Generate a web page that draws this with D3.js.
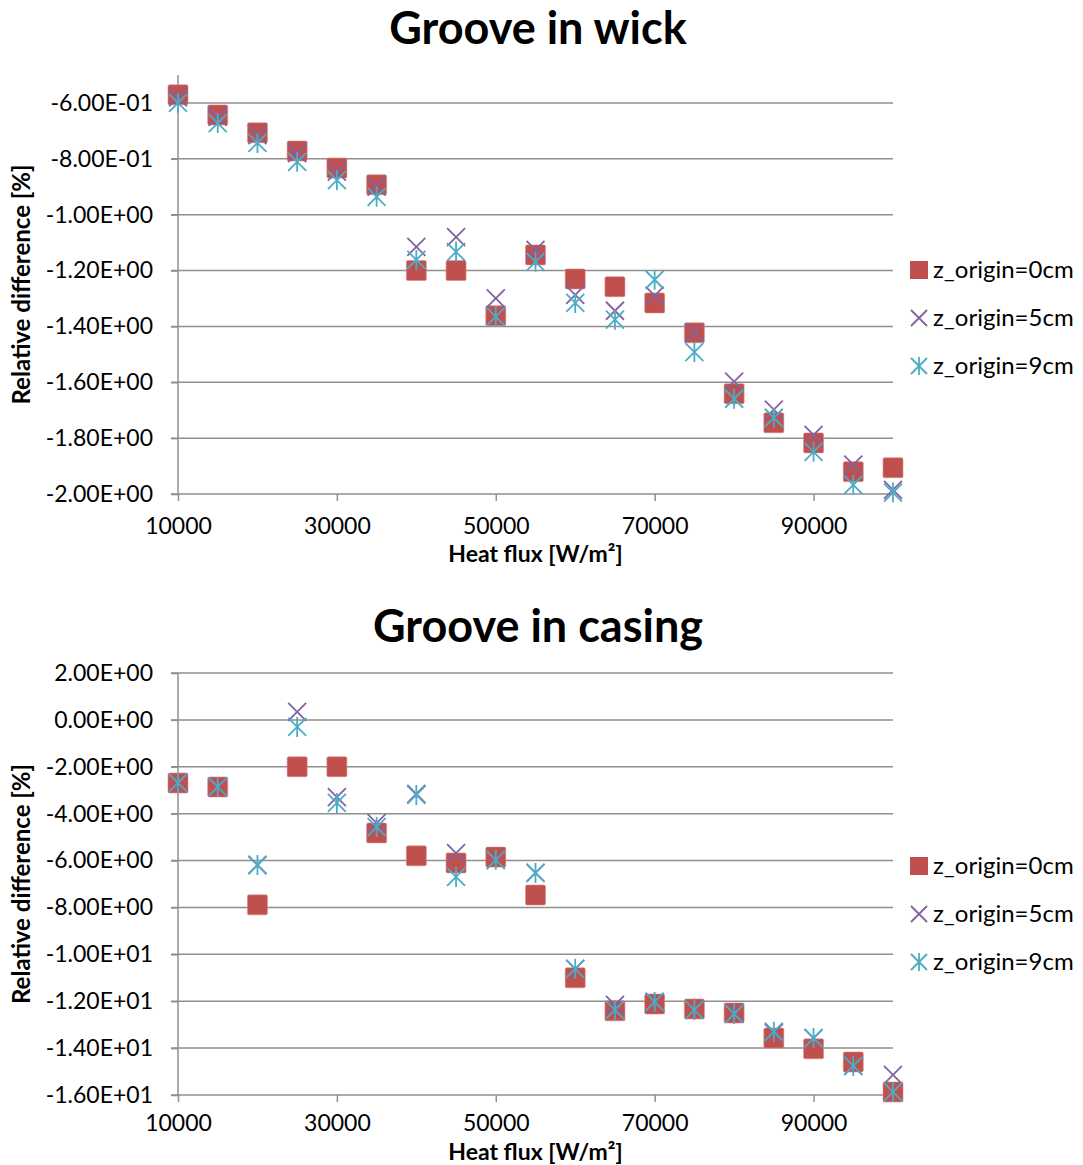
<!DOCTYPE html>
<html>
<head>
<meta charset="utf-8">
<script src="https://cdn.jsdelivr.net/npm/d3@7"></script>
<style>
  html, body { margin: 0; padding: 0; background: #fff; }
  svg text { font-family: Lato, "Open Sans", sans-serif; fill: #000; }
</style>
</head>
<body>
<svg id="chart" width="1083" height="1165"></svg>
<script>
// ---------- DATA ----------
const heatFlux = [10000, 15000, 20000, 25000, 30000, 35000, 40000, 45000, 50000, 55000,
                  60000, 65000, 70000, 75000, 80000, 85000, 90000, 95000, 100000];
const seriesNames = ["z_origin=0cm", "z_origin=5cm", "z_origin=9cm"];

// Groove in wick
const wick0cm = [-0.571, -0.643, -0.707, -0.772, -0.833, -0.893, -1.200, -1.200, -1.362, -1.144,
                 -1.230, -1.258, -1.316, -1.423, -1.641, -1.745, -1.817, -1.920, -1.906];
const wick5cm = [-0.580, -0.650, -0.715, -0.780, -0.846, -0.900, -1.115, -1.080, -1.300, -1.126,
                 -1.287, -1.344, -1.290, -1.423, -1.598, -1.698, -1.788, -1.895, -1.985];
const wick9cm = [-0.600, -0.672, -0.743, -0.811, -0.876, -0.936, -1.162, -1.133, -1.365, -1.169,
                 -1.316, -1.376, -1.233, -1.492, -1.659, -1.727, -1.849, -1.967, -1.995];

// Groove in casing
const casing0cm = [-2.69, -2.86, -7.89, -2.00, -2.00, -4.82, -5.80, -6.10, -5.85, -7.47,
                   -11.00, -12.41, -12.12, -12.33, -12.50, -13.57, -14.03, -14.59, -15.87];
const casing5cm = [-2.70, -2.86, -6.19, 0.34, -3.29, -4.40, -3.16, -5.68, -5.97, -6.53,
                   -10.62, -12.16, -12.03, -12.37, -12.50, -13.35, -13.57, -14.76, -15.14];
const casing9cm = [-2.69, -2.86, -6.19, -0.30, -3.54, -4.57, -3.20, -6.70, -5.97, -6.53,
                   -10.62, -12.37, -12.03, -12.37, -12.54, -13.30, -13.57, -14.76, -15.87];

const xTicks = [10000, 30000, 50000, 70000, 90000];
const yTicksWick = [-2.0, -1.8, -1.6, -1.4, -1.2, -1.0, -0.8, -0.6];
const yTicksCasing = [-16, -14, -12, -10, -8, -6, -4, -2, 0, 2];

const titles = ["Groove in wick", "Groove in casing"];
const xTitle = "Heat flux [W/m²]";
const yTitle = "Relative difference [%]";

// ---------- DRAW ----------
const colors = ["#C0504D", "#8064A2", "#4BACC6"];
const svg = d3.select("#chart");

function fmtE(v) {
  const s = v.toExponential(2);
  let [m, e] = s.split("e");
  const n = parseInt(e, 10);
  const sign = n < 0 ? "-" : "+";
  const abs = Math.abs(n);
  return m + "E" + sign + (abs < 10 ? "0" + abs : "" + abs);
}

function drawMarker(g, type, x, y, color) {
  if (type === 0) {
    g.append("rect").attr("x", x - 10).attr("y", y - 10).attr("width", 20).attr("height", 20)
      .attr("rx", 1.5).attr("fill", color).attr("stroke", "#d98c8a").attr("stroke-width", 0.6);
  } else if (type === 1) {
    const s = 9;
    g.append("path").attr("d", `M${x - s},${y - s}L${x + s},${y + s}M${x - s},${y + s}L${x + s},${y - s}`)
      .attr("stroke", color).attr("stroke-width", 1.8).attr("fill", "none");
  } else {
    const s = 9;
    g.append("path").attr("d", `M${x - s},${y - s}L${x + s},${y + s}M${x - s},${y + s}L${x + s},${y - s}M${x},${y - 10}L${x},${y + 10}`)
      .attr("stroke", color).attr("stroke-width", 1.8).attr("fill", "none");
  }
}

function drawChart(cfg) {
  const g = svg.append("g");
  const x = d3.scaleLinear().domain([10000, 100000]).range([cfg.left, cfg.right]);
  const y = d3.scaleLinear().domain(cfg.yDomain).range([cfg.bottom, cfg.top]);

  // title
  g.append("text").attr("x", cfg.titleX).attr("y", cfg.titleY).attr("text-anchor", "middle")
    .style("font-size", "45px").style("font-weight", "bold").text(cfg.title);

  // gridlines
  g.append("g").selectAll("line").data(cfg.yTicks.filter(d => d !== cfg.yDomain[0])).join("line")
    .attr("x1", cfg.left - 7).attr("x2", cfg.right)
    .attr("y1", d => y(d)).attr("y2", d => y(d))
    .attr("stroke", "#8f8f8f").attr("stroke-width", 1.5);

  // y axis
  const yAxis = d3.axisLeft(y).tickValues(cfg.yTicks).tickFormat(fmtE).tickSize(7).tickPadding(18);
  const ya = g.append("g").attr("transform", `translate(${cfg.left},0)`).call(yAxis);
  ya.select(".domain").attr("stroke", "#8f8f8f").attr("stroke-width", 1.5).attr("d", `M-0,${cfg.top}V${cfg.bottom}`);
  ya.selectAll(".tick line").attr("stroke", "#8f8f8f").attr("stroke-width", 1.5);
  ya.selectAll(".tick text").style("font-size", "23px").style("font-family", "Lato, sans-serif").attr("fill", "#000");

  // x axis
  const xAxis = d3.axisBottom(x).tickValues(xTicks).tickFormat(d3.format("d")).tickSize(7).tickPadding(cfg.xPad);
  const xa = g.append("g").attr("transform", `translate(0,${cfg.bottom})`).call(xAxis);
  xa.select(".domain").attr("stroke", "#8f8f8f").attr("stroke-width", 1.5).attr("d", `M${cfg.left - 7},0H${cfg.right}`);
  xa.selectAll(".tick line").attr("stroke", "#8f8f8f").attr("stroke-width", 1.5);
  xa.selectAll(".tick text").style("font-size", "23px").style("font-family", "Lato, sans-serif").attr("fill", "#000");

  // axis titles
  g.append("text").attr("x", (cfg.left + cfg.right) / 2).attr("y", cfg.bottom + cfg.xTitleOffset)
    .attr("text-anchor", "middle").style("font-size", "23px").style("font-weight", "bold").text(xTitle);
  g.append("text").attr("transform", `translate(30,${(cfg.top + cfg.bottom) / 2}) rotate(-90)`)
    .attr("text-anchor", "middle").style("font-size", "24px").style("font-weight", "bold").text(yTitle);

  // markers
  cfg.series.forEach((vals, si) => {
    const mg = g.append("g");
    vals.forEach((v, i) => drawMarker(mg, si, x(heatFlux[i]), y(v), colors[si]));
  });

  // legend
  seriesNames.forEach((name, si) => {
    const ly = cfg.legendY + si * 48;
    const lg = g.append("g");
    if (si === 0) {
      lg.append("rect").attr("x", 910).attr("y", ly - 9).attr("width", 18).attr("height", 18).attr("fill", colors[0]);
    } else if (si === 1) {
      lg.append("path").attr("d", `M911,${ly - 8}L927,${ly + 8}M911,${ly + 8}L927,${ly - 8}`)
        .attr("stroke", colors[1]).attr("stroke-width", 1.8);
    } else {
      lg.append("path").attr("d", `M911,${ly - 8}L927,${ly + 8}M911,${ly + 8}L927,${ly - 8}M919,${ly - 9}L919,${ly + 9}`)
        .attr("stroke", colors[2]).attr("stroke-width", 1.8);
    }
    lg.append("text").attr("x", 933).attr("y", ly + 8).style("font-size", "24px").text(name);
  });
}

drawChart({
  title: titles[0], titleX: 538, titleY: 44,
  left: 178, right: 893, top: 75, bottom: 494,
  yDomain: [-2.0, -0.5], yTicks: yTicksWick, xPad: 17, xTitleOffset: 68,
  series: [wick0cm, wick5cm, wick9cm], legendY: 270
});

drawChart({
  title: titles[1], titleX: 538, titleY: 642,
  left: 178, right: 893, top: 673, bottom: 1095,
  yDomain: [-16, 2], yTicks: yTicksCasing, xPad: 13, xTitleOffset: 65,
  series: [casing0cm, casing5cm, casing9cm], legendY: 866
});
</script>
</body>
</html>
